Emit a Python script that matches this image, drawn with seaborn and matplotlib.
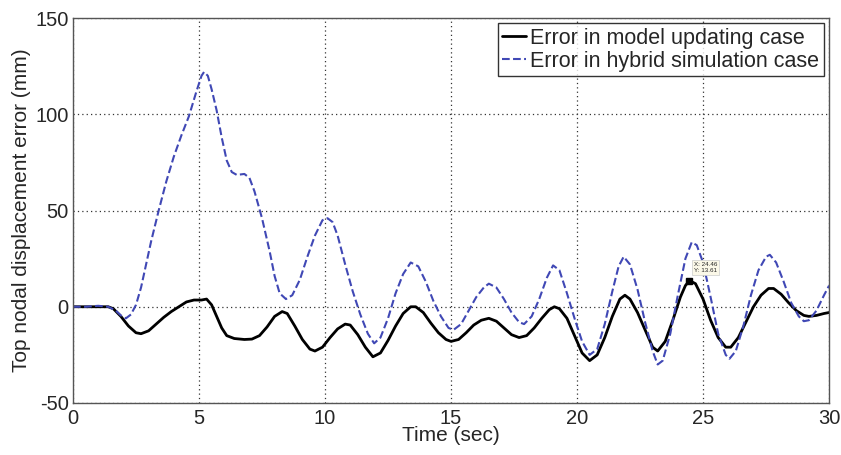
import numpy as np
import pandas as pd
import seaborn as sns
import matplotlib.pyplot as plt

# values
t_model = [0, 1.0, 1.4, 1.6, 1.9, 2.2, 2.5, 2.7, 3.0, 3.3, 3.6, 3.9, 4.2, 4.5, 4.8,
           5.1, 5.3, 5.5, 5.7, 5.9, 6.1, 6.4, 6.8, 7.1, 7.4, 7.7, 8.0, 8.3, 8.5,
           8.8, 9.1, 9.4, 9.6, 9.9, 10.2, 10.5, 10.8, 11.0, 11.3, 11.6, 11.9, 12.2,
           12.5, 12.8, 13.1, 13.4, 13.6, 13.9, 14.2, 14.5, 14.8, 15.0, 15.3, 15.6,
           15.9, 16.2, 16.5, 16.8, 17.1, 17.4, 17.7, 18.0, 18.3, 18.6, 18.9, 19.1,
           19.3, 19.6, 19.9, 20.2, 20.5, 20.8, 21.1, 21.4, 21.7, 21.9, 22.1, 22.4,
           22.7, 23.0, 23.2, 23.5, 23.8, 24.1, 24.3, 24.46, 24.7, 25.0, 25.3, 25.6,
           25.9, 26.1, 26.4, 26.7, 27.0, 27.3, 27.6, 27.8, 28.1, 28.4, 28.7, 29.0,
           29.2, 29.5, 29.8, 30.0]
err_model = [0, 0, 0, -1, -5, -10, -13.5, -14, -12.5, -9, -5.5, -2.5, 0, 2.5, 3.5,
             3.5, 4, 1, -5, -11, -15, -16.5, -17, -16.8, -15, -10.5, -5, -2.5, -3.5,
             -10, -17, -22, -23, -21, -16, -11.5, -9, -9.5, -14.5, -21, -26, -24,
             -17.5, -10, -3.5, 0, 0, -3, -8.5, -13.5, -17, -18, -17, -13.5,
             -9.5, -7, -6, -7.5, -11, -14.5, -16, -15, -11, -6, -1.5, 0,
             -1, -6, -15, -24, -28, -25, -16, -5, 4, 6, 4, -3,
             -12, -21, -23, -18, -7, 5, 11, 13.61, 12, 4, -7, -16,
             -21, -21, -16, -8, 0, 6, 9.5, 9.5, 6.5, 2, -2, -4.5,
             -5, -4.5, -3.5, -3]

t_hybrid = [0, 0.5, 1.0, 1.4, 1.7, 1.9, 2.1, 2.3, 2.5, 2.7, 2.9, 3.1, 3.4, 3.7, 4.0,
            4.3, 4.6, 4.9, 5.1, 5.2, 5.35, 5.5, 5.7, 5.9, 6.1, 6.3, 6.5, 6.8, 7.0,
            7.2, 7.5, 7.8, 8.0, 8.2, 8.45, 8.7, 9.0, 9.3, 9.6, 9.9, 10.1, 10.3, 10.5,
            10.8, 11.1, 11.4, 11.7, 11.95, 12.2, 12.5, 12.8, 13.1, 13.4, 13.7, 14.0,
            14.3, 14.6, 14.9, 15.1, 15.4, 15.7, 16.0, 16.3, 16.5, 16.8, 17.1, 17.4,
            17.7, 17.9, 18.2, 18.5, 18.8, 19.05, 19.3, 19.6, 19.9, 20.2, 20.5, 20.8,
            21.1, 21.4, 21.65, 21.85, 22.1, 22.4, 22.7, 23.0, 23.2, 23.4, 23.7, 24.0,
            24.3, 24.55, 24.75, 25.0, 25.3, 25.6, 25.9, 26.05, 26.3, 26.6, 26.9, 27.2,
            27.5, 27.65, 27.9, 28.2, 28.5, 28.8, 29.0, 29.2, 29.5, 29.8, 30.0]
err_hybrid = [0, 0, 0.5, 0, -2, -4.5, -6, -4, 1, 10, 22, 34, 50, 65, 78,
              89, 99, 112, 120, 122, 120, 113, 102, 88, 76, 70, 68.5, 69, 67,
              60, 46, 29, 16, 7, 4, 6, 14, 26, 37, 45, 46, 44, 37,
              22, 8, -4, -14, -19, -16, -6, 7, 17, 23, 21, 13,
              3, -5, -11, -12, -9, -2, 5, 10, 12, 10, 4, -3,
              -8, -9, -5, 4, 15, 21.5, 19, 7, -6, -18, -25, -22,
              -9, 8, 21, 26, 22, 9, -8, -23, -30, -28, -14, 6,
              25, 33.5, 32, 23, 5, -14, -25, -27, -23, -10, 6, 19,
              26, 27, 23, 13, 2, -5, -7.5, -7, -2, 6, 11]

sns.set_style("white")
plt.rcParams['font.family'] = ['Liberation Sans', 'DejaVu Sans']
plt.rcParams['axes.unicode_minus'] = False

fig = plt.figure(figsize=(8.41, 4.55), dpi=100)
ax = fig.add_axes([0.0868, 0.1143, 0.899, 0.846])

sns.lineplot(x=t_model, y=err_model, ax=ax, color="black", linewidth=2.0,
             sort=False, label="Error in model updating case")
sns.lineplot(x=t_hybrid, y=err_hybrid, ax=ax, color="#4048b5", linewidth=1.5,
             linestyle="--", dashes=(3, 1.5), sort=False,
             label="Error in hybrid simulation case")

ax.set_xlim(0, 30)
ax.set_ylim(-50, 150)
ax.set_xticks(range(0, 31, 5))
ax.set_yticks(range(-50, 151, 50))
ax.grid(True, linestyle=(0, (1, 2.5)), color="#333333", linewidth=0.9)
ax.tick_params(direction="in", labelsize=14.5, length=4)
ax.tick_params(axis="x", pad=4)
ax.tick_params(axis="y", pad=3)
for s in ax.spines.values():
    s.set_color("#555555")
    s.set_linewidth(1.0)
ax.set_xlabel("Time (sec)", fontsize=15, labelpad=-1)
ax.set_ylabel("Top nodal displacement error (mm)", fontsize=15, labelpad=3)

leg = ax.legend(loc="upper right", fontsize=15.5, frameon=True, fancybox=False,
                handlelength=1.1, handletextpad=0.2, borderpad=0.2,
                labelspacing=0.1, borderaxespad=0.25)
leg.get_frame().set_edgecolor("black")
leg.get_frame().set_linewidth(1.0)

# data tip
ax.plot([24.46], [13.61], marker="s", color="black", markersize=4)
ax.annotate("X: 24.46\nY: 13.61", xy=(24.46, 13.61), xytext=(24.65, 17.5),
            fontsize=4.5, va="bottom", ha="left",
            bbox=dict(boxstyle="square,pad=0.3", fc="#fbf8e8", ec="#cccccc", lw=0.5))

fig.savefig("out.png", dpi=100)
